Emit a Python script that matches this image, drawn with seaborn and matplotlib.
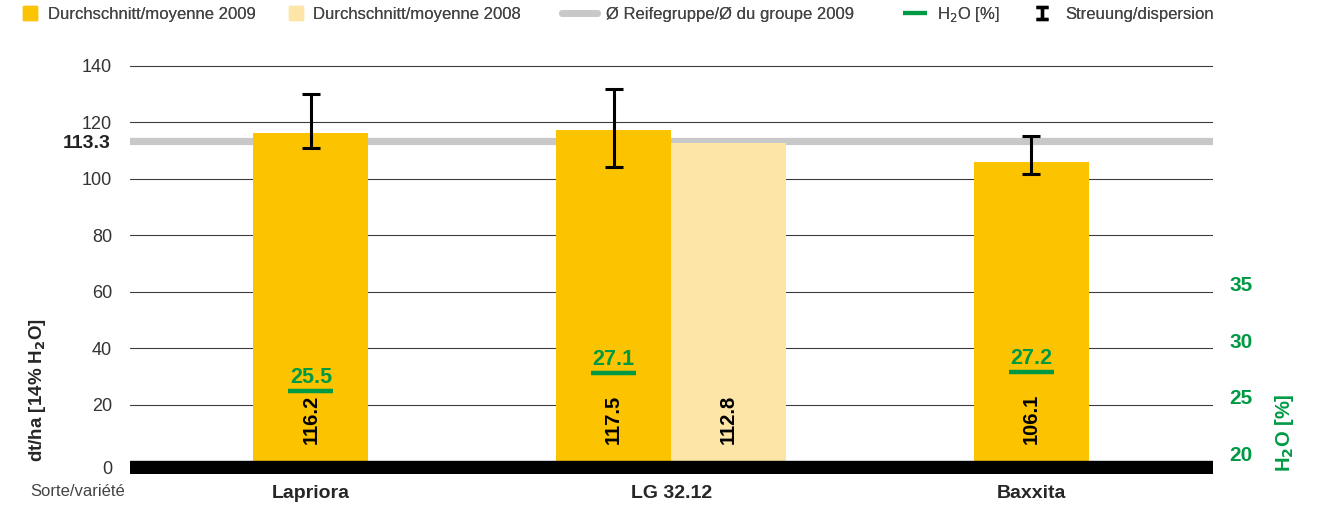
import numpy as np
import pandas as pd
import seaborn as sns
import matplotlib.pyplot as plt
from matplotlib.lines import Line2D
from matplotlib.path import Path

# --- data ---
varieties = ['Lapriora', 'LG 32.12', 'Baxxita']
mean_2009 = [116.2, 117.5, 106.1]
mean_2008 = [np.nan, 112.8, np.nan]
disp_low = [111.0, 104.2, 101.8]
disp_high = [130.1, 131.9, 115.2]
h2o = [25.5, 27.1, 27.2]
group_mean_2009 = 113.3
y_ticks = [0, 20, 40, 60, 80, 100, 120, 140]
h2o_ticks = [20, 25, 30, 35]

C09 = '#fbc300'
C08 = '#fde5a8'
GREY = '#c8c8c8'
GREEN = '#009a44'

sns.set_style('white')
plt.rcParams['font.family'] = ['Liberation Sans', 'DejaVu Sans']

# bar positions: 2009 centred when there is no 2008 value
bar_w = 0.319
rows = []
for i, name in enumerate(varieties):
    has08 = not np.isnan(mean_2008[i])
    p09 = i - bar_w / 2 if has08 else i
    rows.append(dict(variety=name, year='2009', pos=p09, value=mean_2009[i]))
    if has08:
        rows.append(dict(variety=name, year='2008', pos=i + bar_w / 2, value=mean_2008[i]))
df = pd.DataFrame(rows)
pos09 = df[df.year == '2009'].pos.to_numpy()

fig, ax = plt.subplots(figsize=(13.18, 5.07), dpi=100)
fig.subplots_adjust(left=130 / 1318, right=1213 / 1318, bottom=0.0658, top=0.8754)

ymin, ymax = -4.3, 141
ax.set_ylim(ymin, ymax)
ax.set_xlim(-0.502, 2.504)

for v in y_ticks[1:]:
    ax.axhline(v, color='#3c3c3c', lw=0.8, zorder=0.5)
ax.axhline(group_mean_2009, color=GREY, lw=5.2, zorder=1)

sns.barplot(data=df, x='pos', y='value', hue='year', native_scale=True, dodge=False,
            width=1, palette={'2009': C09, '2008': C08}, saturation=1,
            errorbar=None, legend=False, ax=ax, zorder=2, linewidth=0)

ax.errorbar(pos09, mean_2009,
            yerr=[np.array(mean_2009) - np.array(disp_low), np.array(disp_high) - np.array(mean_2009)],
            fmt='none', ecolor='black', elinewidth=2.2, capsize=6.5, capthick=2.2, zorder=5)

# black base band
ax.axhspan(ymin, 0, color='black', zorder=3)

# value labels inside bars
for _, r in df.iterrows():
    ax.text(r.pos, 15, f'{r.value:.1f}', rotation=90, ha='center', va='center',
            fontsize=14.5, fontweight='bold', color='black', zorder=6)

ax.text(-0.018, group_mean_2009 - 0.6, f'{group_mean_2009:.1f}', transform=ax.get_yaxis_transform(),
        ha='right', va='center', fontsize=14, fontweight='bold', color='#222222')

ax.set_yticks([-2.15] + y_ticks[1:])
ax.set_yticklabels([str(v) for v in y_ticks], fontsize=13, color='#333333')
ax.set_xticks(range(len(varieties)))
ax.set_xticklabels(varieties, fontsize=14, fontweight='bold')
ax.tick_params(axis='y', length=0, pad=13)
ax.tick_params(axis='x', length=0, pad=8)
ax.set_xlabel('')
ax.set_ylabel('')
sns.despine(ax=ax, left=True, bottom=True)

# H2O on a second scale
ax2 = ax.twinx()
ax2.set_ylim(20 + (ymin - 3) / 4, 20 + (ymax - 3) / 4)
ax2.hlines(h2o, pos09 - 0.0625, pos09 + 0.0625, color=GREEN, lw=3.2, zorder=6)
for p, h in zip(pos09, h2o):
    ax2.annotate(f'{h:.1f}', (p, h), xytext=(0, 1.8), textcoords='offset points',
                 ha='center', va='bottom', fontsize=15.5, fontweight='bold', color=GREEN)
ax2.set_yticks(h2o_ticks)
ax2.set_yticklabels([str(v) for v in h2o_ticks], fontsize=15, fontweight='bold', color=GREEN)
ax2.tick_params(axis='y', length=0, pad=12)
sns.despine(ax=ax2, left=True, bottom=True, right=True)

fig.text(38 / 1318, 1 - 390 / 507, 'dt/ha [14% H$_\\mathbf{2}$O]', rotation=90,
         ha='center', va='center', fontsize=13.5, fontweight='bold')
fig.text(1285 / 1318, 1 - 433 / 507, 'H$_\\mathbf{2}$O [%]', rotation=90,
         ha='center', va='center', fontsize=14.5, fontweight='bold', color=GREEN)
fig.text(125 / 1318, 1 - 492 / 507, 'Sorte/variété', ha='right', va='center',
         fontsize=12, color='#444444')

# legend, one entry at a time so each sits where the reference has it
ibeam = Path([(-1, 1), (1, 1), (0, 1), (0, -1), (-1, -1), (1, -1)],
             [Path.MOVETO, Path.LINETO, Path.MOVETO, Path.LINETO, Path.MOVETO, Path.LINETO])
legend_items = [
    (Line2D([], [], ls='none', marker='s', ms=10, color=C09), 'Durchschnitt/moyenne 2009', 23, 14, 48),
    (Line2D([], [], ls='none', marker='s', ms=10, color=C08), 'Durchschnitt/moyenne 2008', 289, 14, 313),
    (Line2D([], [], color=GREY, lw=5), 'Ø Reifegruppe/Ø du groupe 2009', 562, 35, 606),
    (Line2D([], [], ls='none', marker='_', ms=17, mew=3, color=GREEN), 'H$_2$O [%]', 903, 24, 937),
    (Line2D([], [], ls='none', marker=ibeam, ms=8, mew=2.4, color='black'), 'Streuung/dispersion', 1036, 12, 1065),
]
fs = 12
fs_px = fs * 100 / 72
for handle, label, x0, hlen, xt in legend_items:
    leg = fig.legend([handle], [label], loc='center left', bbox_to_anchor=(x0 / 1318, 1 - 14.5 / 507),
                     frameon=False, prop={'size': fs}, labelcolor='#444444',
                     borderpad=0, borderaxespad=0, handlelength=hlen / fs_px,
                     handletextpad=(xt - x0 - hlen) / fs_px)
    fig.add_artist(leg)

fig.savefig('out.png', dpi=100)
